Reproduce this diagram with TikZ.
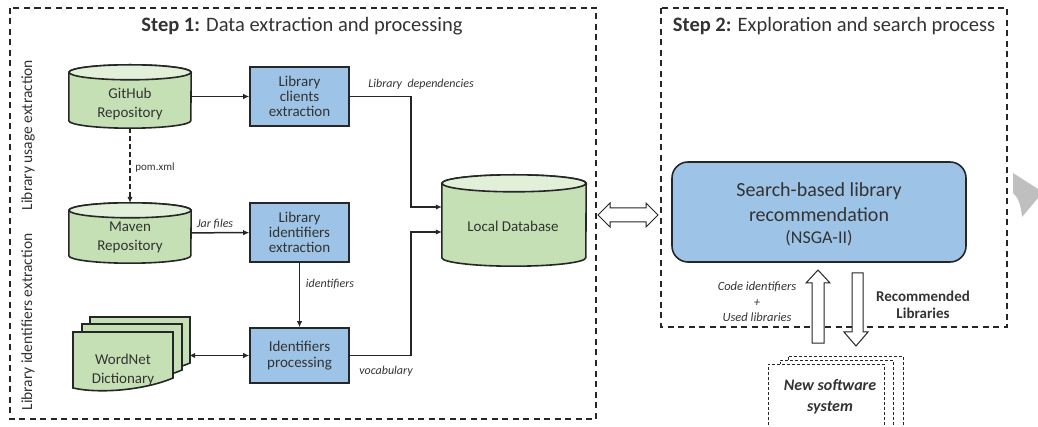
\documentclass[tikz,border=0pt]{standalone}
\usepackage{fontspec}
\setmainfont{Carlito}
\usetikzlibrary{arrows.meta,calc}
\definecolor{grn}{HTML}{C5E0B4}
\definecolor{grntop}{HTML}{E2F0D9}
\definecolor{blu}{HTML}{9DC3E6}
\definecolor{ink}{HTML}{262626}
\definecolor{txt}{HTML}{333333}
\definecolor{chev}{HTML}{BFBFBF}
\newcommand\drawcyl[3]{%
  \path[cylbody] let \p1=(#1.north west), \p2=(#1.south east) in
    (\x1,\y1-#3pt) -- (\x1,\y2+#3pt)
    arc[start angle=180,end angle=360,x radius=#2pt,y radius=#3pt]
    -- (\x2,\y1-#3pt)
    arc[start angle=0,end angle=180,x radius=#2pt,y radius=#3pt] -- cycle;
  \path[cyltop] let \p1=(#1.north) in
    (\x1,\y1-#3pt) ellipse[x radius=#2pt,y radius=#3pt];
}
\newcommand\drawdoc[2]{%
  \path[docbody] (#1,#2) -- (#1+100,#2) -- (#1+100,#2+46)
    .. controls (#1+72,#2+58) and (#1+27,#2+62) .. (#1,#2+56) -- cycle;
}
\begin{document}
\begin{tikzpicture}[x=1pt,y=-1pt,
  every node/.style={inner sep=0pt,text=txt},
  proc/.style={draw=ink,line width=1.6pt,fill=blu,minimum width=99pt,align=center,
    font=\fontsize{15}{14.7}\selectfont},
  cylbody/.style={draw=ink,line width=1.6pt,fill=grn},
  cyltop/.style={draw=ink,line width=1.6pt,fill=grntop},
  docbody/.style={draw=ink,line width=1.6pt,fill=grn},
  body/.style={align=center,font=\fontsize{15}{19}\selectfont},
  conn/.style={draw=ink,line width=1.5pt,-{Latex[length=6pt,width=5.5pt]}},
  lab/.style={font=\fontsize{12}{14}\selectfont\itshape},
  stepframe/.style={draw=ink,line width=1.5pt,dash pattern=on 6pt off 4.5pt},
  hollow/.style={draw=ink,line width=1pt,fill=white},
  docdash/.style={draw=ink,line width=1pt,dash pattern=on 3pt off 2pt},
]
\useasboundingbox (0,0) rectangle (1038,427);

% frames
\draw[stepframe] (10,8) rectangle (596,419);
\draw[stepframe] (661,8) rectangle (1007,327);
\node[font=\fontsize{20.5}{24}\selectfont] (t1) at (302,26) {\textbf{Step 1:} Data extraction and processing};
\node[font=\fontsize{20.5}{24}\selectfont] (t2) at (834,26) {\textbf{Step 2:} Exploration and search process};
\node[rotate=90,font=\fontsize{15.5}{18}\selectfont] (v1) at (28,135) {Library usage extraction};
\node[rotate=90,font=\fontsize{15.5}{18}\selectfont] (v2) at (28,322) {Library identifiers extraction};

% cylinders
\node[minimum width=122pt,minimum height=63pt] (github) at (130,96.5) {};
\drawcyl{github}{61}{7.5}
\node[body] (githubt) at (130,104.5) {GitHub\\Repository};

\node[minimum width=122pt,minimum height=60pt] (maven) at (130,233) {};
\drawcyl{maven}{61}{7.5}
\node[body] (mavent) at (130,237.5) {Maven\\Repository};

\node[minimum width=144pt,minimum height=91pt] (ldb) at (514,220.5) {};
\drawcyl{ldb}{72}{8.5}
\node[body] (ldbt) at (513,226) {Local Database};

% documents
\drawdoc{90}{317}
\drawdoc{82}{324}
\drawdoc{73}{332}
\node[minimum width=116pt,minimum height=76pt] (wn) at (131,355) {};
\node[body] (wnt) at (123,370) {WordNet\\Dictionary};

% process boxes
\node[proc,minimum height=59pt] (lce) at (299.5,96.5) {Library\\clients\\extraction};
\node[proc,minimum height=59pt] (lie) at (299.5,232.5) {Library\\identifiers\\extraction};
\node[proc,minimum height=55pt,font=\fontsize{15}{16}\selectfont] (ip) at (299.5,355.5) {Identifiers\\processing};

% connectors
\draw[conn] (github) -- (lce);
\draw[conn,dash pattern=on 5pt off 3pt] (github.south) -- (maven.north);
\node[font=\fontsize{11}{13}\selectfont] (pomt) at (155,168) {pom.xml};
\draw[conn] (maven) -- (lie);
\node[lab] (jart) at (215,224) {Jar files};
\draw[conn] (lie) -- (ip);
\node[lab] (idt) at (330,284) {identifiers};
\draw[conn,{Latex[length=6pt,width=5.5pt]}-{Latex[length=6pt,width=5.5pt]}] (wn.east |- ip.west) -- (ip.west);
\draw[conn] (lce.east) -- ++(61,0) |- ([yshift=13.5pt]ldb.west);
\node[lab] (ldt) at (421,84) {Library\ \ dependencies};
\draw[conn] (ip.east) -- ++(61,0) |- ([yshift=-11.5pt]ldb.west);
\node[lab] (vot) at (386,371) {vocabulary};

% double hollow arrow
\draw[hollow] (598,215) -- (610,203) -- (610,208) -- (646,208) -- (646,203) -- (658,215)
  -- (646,227) -- (646,222) -- (610,222) -- (610,227) -- cycle;

% search box
\node[draw=ink,line width=1.6pt,fill=blu,rounded corners=16pt,minimum width=294pt,
  minimum height=100pt] (sbl) at (819,212) {};
\node[align=center,font=\fontsize{20}{25}\selectfont] (sblt) at (819,214.5)
  {Search-based library\\recommendation\\[-3pt]{\fontsize{18}{20}\selectfont (NSGA-II)}};

% up / down hollow arrows
\draw[hollow] (818,270) -- (830,283) -- (824,283) -- (824,343) -- (812,343) -- (812,283)
  -- (806,283) -- cycle;
\draw[hollow] (852,273) -- (863,273) -- (863,332) -- (868,332) -- (856,346) -- (844,332)
  -- (852,332) -- cycle;
\node[align=center,font=\fontsize{12.5}{15.5}\selectfont\itshape] (cit) at (757,302)
  {Code identifiers\\+\\Used libraries};
\node[align=center,font=\fontsize{15}{17}\selectfont\bfseries] (rlt) at (923,305)
  {Recommended\\Libraries};

% new software system
\draw[docdash,fill=white] (788,440) -- (788,356) -- (903,356) -- (903,440);
\draw[docdash,fill=white] (780,440) -- (780,360) -- (893,360) -- (893,440);
\draw[docdash,fill=white] (768,440) -- (768,364) -- (884,364) -- (884,440);
\node[align=center,font=\fontsize{16}{21}\selectfont\bfseries\itshape] (nss) at (830,397)
  {New software\\system};

% chevron
\fill[chev] (1013,173) -- (1038,189) -- (1038,198) -- (1022,217)
  .. controls (1021,205) and (1018,197) .. (1013,193) -- cycle;
\end{tikzpicture}
\end{document}
